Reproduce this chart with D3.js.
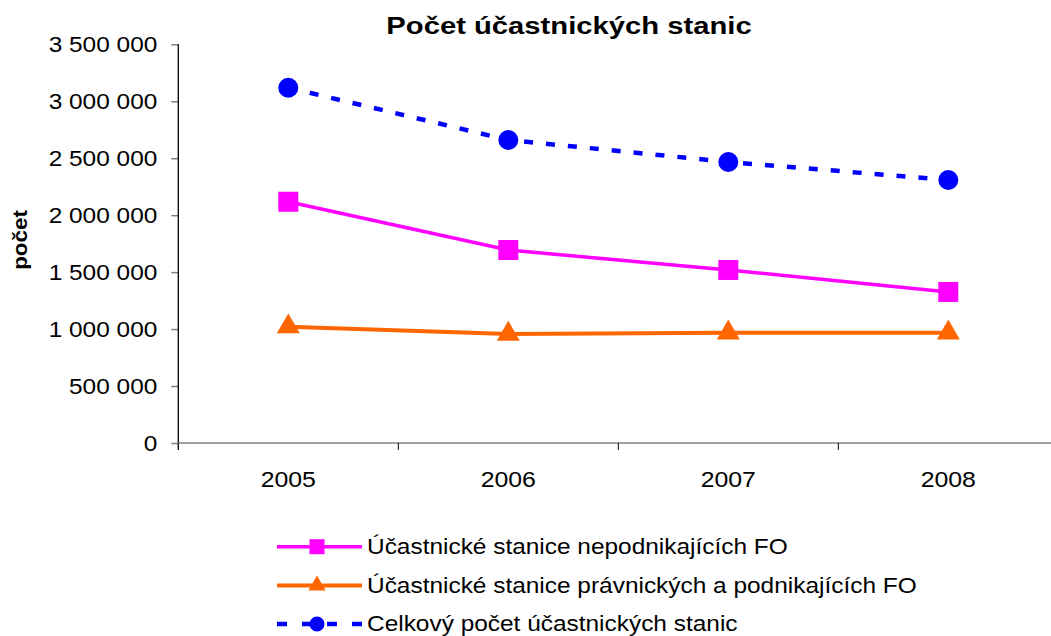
<!DOCTYPE html>
<html><head><meta charset="utf-8">
<script src="https://cdn.jsdelivr.net/npm/d3@7"></script>
<style>
html,body{margin:0;padding:0;background:#fff;}
text{font-family:"Liberation Sans",Arial,sans-serif;fill:#000;}
</style></head>
<body><svg id="c" width="1051" height="636"></svg>
<script>
const title = "Počet účastnických stanic";
const yTitle = "počet";
const years = ["2005","2006","2007","2008"];
const yTicks = [0,500000,1000000,1500000,2000000,2500000,3000000,3500000];
const seriesNames = ["Účastnické stanice nepodnikajících FO","Účastnické stanice právnických a podnikajících FO","Celkový počet účastnických stanic"];
const nepodnikajici = [2118000,1694000,1519000,1326000];
const pravnicke = [1021000,957000,968000,968000];
const celkem = [3119000,2660000,2467000,2309000];

const svg = d3.select("#c");
const x = d3.scaleBand().domain(years).range([178.3,1058.3]).padding(0);
const y = d3.scaleLinear().domain([0,3500000]).range([443,44.3]);
const loc = d3.formatLocale({decimal:",",thousands:"\u00a0",grouping:[3],currency:["",""]});
const fmt = loc.format(",");

// widen text horizontally (reference glyphs are wider than Arial)
function widen(sel,k){
  sel.each(function(){
    const w = this.getComputedTextLength();
    d3.select(this).attr("textLength",w*k).attr("lengthAdjust","spacingAndGlyphs");
  });
}

// title
svg.append("text").attr("x",569).attr("y",34).attr("text-anchor","middle")
  .style("font-size","23px").style("font-weight","bold").text(title).call(widen,1.27);
// y title
svg.append("text").attr("transform","translate(27,240) rotate(-90)").attr("text-anchor","middle")
  .style("font-size","20px").style("font-weight","bold").text(yTitle).call(widen,1.12);

// y axis
const ya = svg.append("g").attr("transform","translate(178.3,0)")
  .call(d3.axisLeft(y).tickValues(yTicks).tickFormat(fmt).tickSize(7).tickPadding(14));
ya.select(".domain").remove();
ya.selectAll(".tick line").attr("stroke","#808080").attr("stroke-width",1.5);
ya.selectAll(".tick text").style("font-size","22px").style("font-family","Liberation Sans, Arial, sans-serif").attr("fill","#000").call(widen,1.11);
svg.append("line").attr("x1",178.3).attr("x2",178.3).attr("y1",44.3).attr("y2",450).attr("stroke","#000").attr("stroke-width",1.3);

// x axis
svg.append("line").attr("x1",178.3).attr("x2",1058).attr("y1",443).attr("y2",443).attr("stroke","#808080").attr("stroke-width",1.5);
svg.selectAll(".xt").data(years.slice(1)).enter().append("line")
  .attr("x1",d=>x(d)).attr("x2",d=>x(d)).attr("y1",443).attr("y2",450).attr("stroke","#000").attr("stroke-width",1);
svg.selectAll(".xl").data(years).enter().append("text")
  .attr("x",d=>x(d)+x.bandwidth()/2).attr("y",487).attr("text-anchor","middle")
  .style("font-size","22px").text(d=>d).call(widen,1.13);

const cx = d=>x(d)+x.bandwidth()/2;
const line = d3.line().x((d,i)=>cx(years[i])).y(d=>y(d));

const series = [
  {vals:nepodnikajici,color:"#FF00FF",dash:null,w:3.5,sym:d3.symbolSquare,size:400,lsize:225},
  {vals:pravnicke,color:"#FF6600",dash:null,w:4,sym:d3.symbolTriangle,size:230,lsize:130},
  {vals:celkem,color:"#0000FF",dash:"9,13",w:4.5,sym:d3.symbolCircle,size:314,lsize:180}
];

series.forEach(s=>{
  svg.append("path").datum(s.vals).attr("d",line).attr("fill","none")
    .attr("stroke",s.color).attr("stroke-width",s.w).attr("stroke-dasharray",s.dash);
  svg.selectAll(null).data(s.vals).enter().append("path")
    .attr("d",d3.symbol().type(s.sym).size(s.size))
    .attr("transform",(d,i)=>`translate(${cx(years[i])},${y(d)})`)
    .attr("fill",s.color);
});

// legend
const ly = [546.7,585.5,624];
series.forEach((s,i)=>{
  const g = svg.append("g").attr("transform",`translate(0,${ly[i]})`);
  g.append("line").attr("x1",277).attr("x2",362).attr("y1",0).attr("y2",0)
    .attr("stroke",s.color).attr("stroke-width",s.w).attr("stroke-dasharray",s.dash?"10,15":null);
  g.append("path").attr("d",d3.symbol().type(s.sym).size(s.lsize))
    .attr("transform","translate(317,0)").attr("fill",s.color);
  g.append("text").attr("x",367).attr("y",7).style("font-size","22px").text(seriesNames[i]).call(widen,1.11);
});
</script></body></html>
